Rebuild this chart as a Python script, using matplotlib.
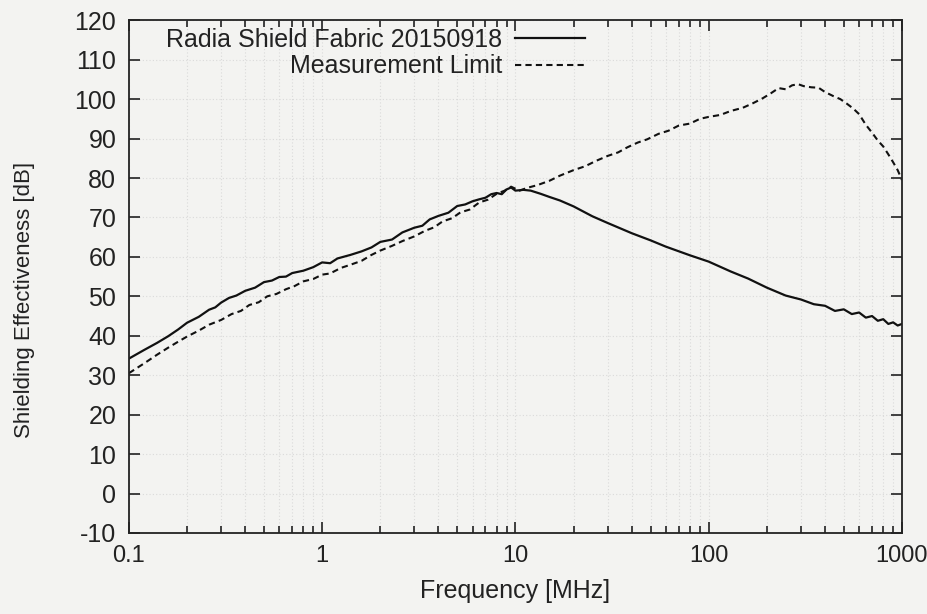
import matplotlib
matplotlib.use("Agg")
import matplotlib.pyplot as plt
from matplotlib.ticker import LogLocator, FixedLocator, FixedFormatter, NullFormatter, MultipleLocator

plt.rcParams['font.family'] = ['Liberation Sans', 'DejaVu Sans']
plt.rcParams['axes.unicode_minus'] = False

# Radia Shield Fabric 20150918
fabric_freq = [0.1, 0.12, 0.14, 0.16, 0.18, 0.2, 0.23, 0.26, 0.28, 0.3, 0.33, 0.36,
               0.4, 0.45, 0.5, 0.55, 0.6, 0.65, 0.7, 0.8, 0.9, 1.0, 1.1, 1.2, 1.4,
               1.6, 1.8, 2.0, 2.3, 2.6, 3.0, 3.3, 3.6, 4.0, 4.5, 5.0, 5.5, 6.0, 6.5,
               7.0, 7.5, 8.0, 8.5, 9.0, 9.5, 10, 11, 12, 13.5, 15, 17, 20, 25, 30,
               40, 50, 60, 80, 100, 130, 160, 200, 250, 300, 350, 400, 450, 500,
               550, 600, 650, 700, 750, 800, 850, 900, 950, 1000]
fabric_db = [34.2, 36.4, 38.2, 39.9, 41.6, 43.3, 44.8, 46.6, 47.2, 48.4, 49.6, 50.2,
             51.4, 52.2, 53.6, 54.0, 54.9, 55.0, 55.9, 56.5, 57.4, 58.6, 58.4, 59.6, 60.5,
             61.4, 62.4, 63.8, 64.4, 66.2, 67.4, 67.9, 69.5, 70.4, 71.2, 72.9, 73.3, 74.1, 74.6,
             75.0, 75.9, 76.2, 75.9, 77.1, 77.6, 76.8, 77.0, 76.8, 76.0, 75.2, 74.3, 72.8, 70.3, 68.6,
             66.0, 64.2, 62.6, 60.4, 58.8, 56.3, 54.5, 52.2, 50.2, 49.2, 48.0, 47.6, 46.3, 46.7,
             45.5, 45.9, 44.6, 45.0, 43.8, 44.2, 43.0, 43.4, 42.6, 43.0]

# Measurement Limit
limit_freq = [0.1, 0.12, 0.14, 0.16, 0.18, 0.2, 0.23, 0.26, 0.3, 0.34, 0.38, 0.42,
              0.47, 0.52, 0.58, 0.65, 0.72, 0.8, 0.9, 1.0, 1.1, 1.25, 1.4, 1.6, 1.8,
              2.0, 2.3, 2.6, 3.0, 3.4, 3.8, 4.2, 4.7, 5.2, 5.8, 6.5, 7.2, 8.0, 8.8,
              9.5, 10.5, 11.5, 13, 15, 17, 20, 23, 26, 30, 34, 38, 43, 48, 55, 62,
              70, 80, 90, 100, 115, 130, 150, 170, 190, 210, 230, 250, 270, 290, 310,
              340, 370, 400, 440, 480, 520, 560, 600, 650, 700, 750, 800, 850, 900,
              950, 1000]
limit_db = [30.5, 33.0, 35.2, 37.0, 38.5, 39.8, 41.3, 42.8, 44.0, 45.5, 46.3, 47.8,
            48.5, 50.0, 50.6, 51.8, 52.6, 53.8, 54.4, 55.5, 55.8, 57.2, 58.0, 59.0, 60.5,
            61.6, 62.8, 64.0, 65.2, 66.6, 67.5, 69.0, 69.8, 71.3, 72.0, 73.8, 74.5, 76.0, 76.8,
            77.8, 76.8, 77.5, 78.2, 79.3, 80.6, 82.0, 83.0, 84.3, 85.6, 86.5, 87.8, 89.0, 89.8, 91.2, 92.0,
            93.3, 93.8, 95.0, 95.5, 96.0, 97.0, 97.8, 99.0, 100.2, 101.5, 102.8, 102.5, 103.5, 103.8, 103.3,
            103.0, 102.9, 101.8, 100.8, 100.0, 98.8, 97.6, 96.2, 93.5, 91.5, 89.5, 88.0, 86.0, 84.0,
            82.0, 79.5]

x_ticks = [0.1, 1, 10, 100, 1000]
x_labels = ["0.1", "1", "10", "100", "1000"]

paper = "#f3f3f1"
ink = "#222222"
fig = plt.figure(figsize=(9.27, 6.14), dpi=100, facecolor=paper)
ax = fig.add_axes([0.139, 0.132, 0.834, 0.835], facecolor=paper)

ax.plot(fabric_freq, fabric_db, color="#111111", lw=1.6, label="Radia Shield Fabric 20150918")
ax.plot(limit_freq, limit_db, color="#111111", lw=1.5, linestyle=(0, (3, 2)),
        label="Measurement Limit")

ax.set_xscale("log")
ax.set_xlim(0.1, 1000)
ax.set_ylim(-10, 120)
ax.xaxis.set_major_locator(FixedLocator(x_ticks))
ax.xaxis.set_major_formatter(FixedFormatter(x_labels))
ax.xaxis.set_minor_locator(LogLocator(base=10, subs=range(2, 10)))
ax.xaxis.set_minor_formatter(NullFormatter())
ax.yaxis.set_major_locator(MultipleLocator(10))

ax.grid(True, which="both", axis="x", color="#dadada", lw=0.8, linestyle=(0, (1, 2)))
ax.grid(True, which="major", axis="y", color="#dadada", lw=0.8, linestyle=(0, (1, 2)))

ax.tick_params(which="both", direction="in", top=True, right=True, colors=ink, width=1.2)
ax.tick_params(axis="y", labelsize=18)
ax.tick_params(axis="x", labelsize=17)
ax.tick_params(which="major", length=8, pad=9)
ax.tick_params(which="minor", length=5)
for s in ax.spines.values():
    s.set_color(ink)
    s.set_linewidth(1.3)

ax.set_xlabel("Frequency [MHz]", fontsize=18, color=ink, labelpad=8)
ax.set_ylabel("Shielding Effectiveness [dB]", fontsize=16, color=ink)
ax.yaxis.set_label_coords(-0.122, 0.454)

leg = ax.legend(loc="upper left", bbox_to_anchor=(0.048, 0.985), frameon=False, markerfirst=False,
                fontsize=18, handlelength=2.8, handletextpad=0.5, labelspacing=0.1,
                borderaxespad=0.0, borderpad=0.0)
for t in leg.get_texts():
    t.set_ha("right")
    t.set_color(ink)

fig.savefig("out.png", dpi=100, facecolor=paper)
